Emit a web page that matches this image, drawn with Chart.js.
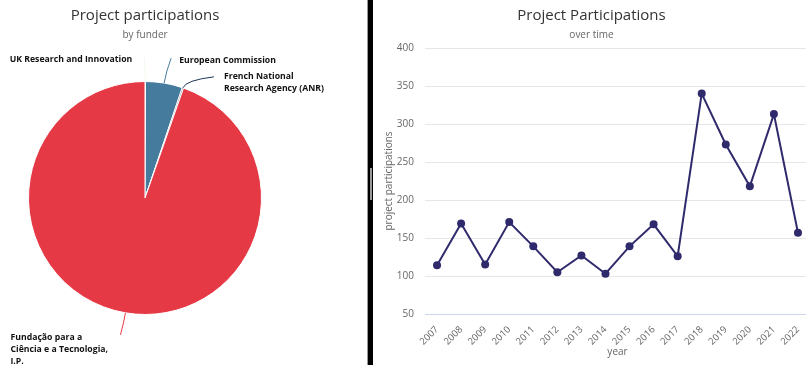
<!DOCTYPE html>
<html>
<head>
<meta charset="utf-8">
<script src="https://cdn.jsdelivr.net/npm/chart.js@4.4.1/dist/chart.umd.min.js"></script>
<style>
  html, body { margin: 0; padding: 0; background: #fff; }
  body { width: 806px; height: 365px; overflow: hidden; position: relative; }
  #left { position: absolute; left: 0; top: 0; }
  #right { position: absolute; left: 373px; top: 0; }
  #divider { position: absolute; left: 367px; top: 0; width: 6px; height: 365px; background: #000; border-left: 1px solid #999; box-sizing: border-box; }
  #handle { position: absolute; left: 2px; top: 168px; width: 2px; height: 32px; background: #9a9a9a; }
</style>
</head>
<body>
<canvas id="left" width="367" height="365"></canvas>
<div id="divider"><div id="handle"></div></div>
<canvas id="right" width="446" height="365"></canvas>
<script>
"use strict";

/* ---- data ---- */
const FUNDERS = [
  "UK Research and Innovation",
  "European Commission",
  "French National Research Agency (ANR)",
  "Fundação para a Ciência e a Tecnologia, I.P.",
];
const FUNDER_PARTICIPATIONS = [2, 142, 5, 2628];

const YEARS = ["2007", "2008", "2009", "2010", "2011", "2012", "2013", "2014",
  "2015", "2016", "2017", "2018", "2019", "2020", "2021", "2022"];
const PARTICIPATIONS = [114, 169, 115, 171, 139, 105, 127, 103, 139, 168, 126, 340, 273, 218, 313, 157];

const Y_MIN = 50;
const Y_MAX = 400;
const Y_STEP = 50;

/* ---- styling ---- */
const FONT = "'Open Sans', 'DejaVu Sans', sans-serif";
const FUNDER_COLORS = ["#f1faee", "#457b9d", "#1d3557", "#e63946"];
const LINE_COLOR = "#2f2a6c";
const GRID = "#e6e6e6";
const AXIS_LINE = "#ccd6eb";

Chart.defaults.font.family = FONT;
Chart.defaults.animation = false;

const titleOpts = (text) => ({
  display: true, text, color: "#333333",
  font: { size: 15, weight: "normal" },
  padding: { top: 7, bottom: 4 },
});
const subtitleOpts = (text, bottom) => ({
  display: true, text, color: "#666666",
  font: { size: 10 },
  padding: { top: 0, bottom },
});

// Connector + text placement for each pie label, relative to the slice's outer edge.
const LABEL_LAYOUT = [
  { end: [-1, -24], bend: 8, text: [-12, 2], align: "right", wrap: 200 },
  { end: [7, -25], bend: 12, text: [8, 2], align: "left", wrap: 200 },
  { end: [31, -11], bend: 8, text: [10, 0], align: "left", wrap: 104 },
  { end: [-5, 22], bend: 10, text: [-110, 3], align: "left", wrap: 104 },
];

function wrap(ctx, text, maxWidth) {
  const lines = [];
  let cur = "";
  for (const w of text.split(" ")) {
    const t = cur ? cur + " " + w : w;
    if (cur && ctx.measureText(t).width > maxWidth) { lines.push(cur); cur = w; }
    else cur = t;
  }
  if (cur) lines.push(cur);
  return lines;
}

const pieLabels = {
  id: "pieLabels",
  afterDatasetsDraw(chart) {
    const { ctx } = chart;
    const labels = chart.data.labels;
    chart.getDatasetMeta(0).data.forEach((arc, i) => {
      const { x, y, startAngle, endAngle, outerRadius } =
        arc.getProps(["x", "y", "startAngle", "endAngle", "outerRadius"], true);
      const mid = (startAngle + endAngle) / 2;
      const dx = Math.cos(mid), dy = Math.sin(mid);
      const ex = x + dx * outerRadius, ey = y + dy * outerRadius;
      const L = LABEL_LAYOUT[i];
      const tx = ex + L.end[0], ty = ey + L.end[1];

      ctx.save();
      ctx.strokeStyle = FUNDER_COLORS[i];
      ctx.lineWidth = 1;
      ctx.beginPath();
      ctx.moveTo(ex, ey);
      ctx.quadraticCurveTo(ex + dx * L.bend, ey + dy * L.bend, tx, ty);
      ctx.stroke();

      ctx.fillStyle = "#111";
      ctx.font = `bold 8.7px ${FONT}`;
      ctx.textAlign = L.align;
      ctx.textBaseline = "middle";
      const lines = wrap(ctx, labels[i], L.wrap);
      lines.forEach((ln, k) => ctx.fillText(ln, tx + L.text[0], ty + L.text[1] + k * 11.7));
      ctx.restore();
    });
  },
};

/* ---- pie: participations by funder ---- */
new Chart(document.getElementById("left"), {
  type: "pie",
  data: {
    labels: FUNDERS,
    datasets: [{
      data: FUNDER_PARTICIPATIONS,
      backgroundColor: FUNDER_COLORS,
      borderColor: "#ffffff",
      borderWidth: 1,
    }],
  },
  options: {
    responsive: false,
    layout: { padding: { left: 0, right: 77, top: 0, bottom: 50 } },
    plugins: {
      legend: { display: false },
      tooltip: { enabled: false },
      title: titleOpts("Project participations"),
      subtitle: subtitleOpts("by funder", 40),
    },
  },
  plugins: [pieLabels],
});

/* ---- line: participations over time ---- */
new Chart(document.getElementById("right"), {
  type: "line",
  data: {
    labels: YEARS,
    datasets: [{
      data: PARTICIPATIONS,
      borderColor: LINE_COLOR,
      backgroundColor: LINE_COLOR,
      borderWidth: 2,
      pointRadius: 4,
      pointBorderWidth: 0,
      tension: 0,
    }],
  },
  options: {
    responsive: false,
    layout: { padding: { left: 0, right: 9, top: 0, bottom: 0 } },
    plugins: {
      legend: { display: false },
      tooltip: { enabled: false },
      title: titleOpts("Project Participations"),
      subtitle: subtitleOpts("over time", 7),
    },
    scales: {
      x: {
        offset: true,
        grid: { display: false },
        border: { display: true, color: AXIS_LINE, width: 1 },
        ticks: { color: "#666666", font: { size: 9.5 }, minRotation: 45, maxRotation: 45, padding: 2 },
        title: { display: true, text: "year", color: "#666666", font: { size: 10 }, padding: { top: 4, bottom: 7 } },
        afterFit: (s) => { s.height = 51; },
      },
      y: {
        min: Y_MIN,
        max: Y_MAX,
        grid: { color: GRID, drawTicks: false },
        border: { display: false },
        ticks: { stepSize: Y_STEP, color: "#666666", font: { size: 10 }, padding: 11 },
        title: { display: true, text: "project participations", color: "#666666", font: { size: 10 }, padding: { top: 10, bottom: 0 } },
        afterFit: (s) => { s.width = 52; },
      },
    },
  },
});
</script>
</body>
</html>
